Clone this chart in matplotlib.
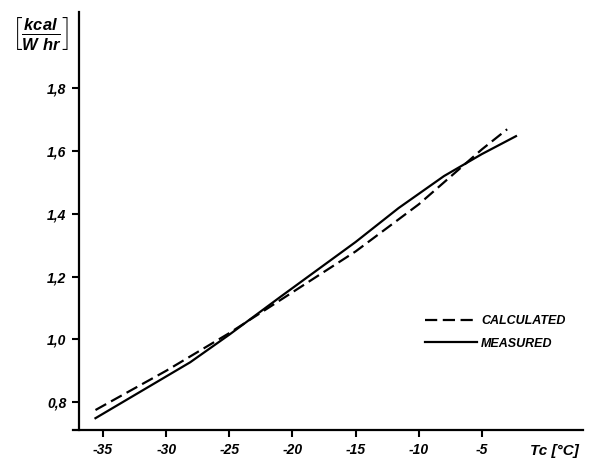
import matplotlib
matplotlib.use("Agg")
import matplotlib.pyplot as plt

# condenser temperature (deg C) vs. heat rate, calculated and measured
tc_calc = [-35.6, -30, -25, -20, -15, -10, -5, -3.0]
q_calc = [0.775, 0.90, 1.02, 1.15, 1.28, 1.43, 1.605, 1.669]

tc_meas = [-35.6, -28.1, -25, -21, -15, -11.6, -8, -5, -2.3]
q_meas = [0.749, 0.927, 1.015, 1.134, 1.31, 1.418, 1.52, 1.59, 1.647]

xticks = [-35, -30, -25, -20, -15, -10, -5]
yticks = [0.8, 1.0, 1.2, 1.4, 1.6, 1.8]
ytick_labels = ["0,8", "1,0", "1,2", "1,4", "1,6", "1,8"]

plt.rcParams["font.family"] = ["Liberation Sans", "DejaVu Sans"]
plt.rcParams["mathtext.fontset"] = "custom"
plt.rcParams["mathtext.it"] = "Liberation Sans:italic:bold"
plt.rcParams["mathtext.rm"] = "Liberation Sans:bold"

fig = plt.figure(figsize=(5.9, 4.66), dpi=100)
ax = fig.add_axes([0.134, 0.077, 0.854, 0.897])

ax.plot(tc_calc, q_calc, color="black", lw=1.6, dashes=(5.5, 2.5),
        label="CALCULATED")
ax.plot(tc_meas, q_meas, color="black", lw=1.6, label="MEASURED")

ax.set_xlim(-36.9, 3.0)
ax.set_ylim(0.711, 2.042)
ax.spines["top"].set_visible(False)
ax.spines["right"].set_visible(False)
for s in ("left", "bottom"):
    ax.spines[s].set_linewidth(1.6)
ax.spines["bottom"].set_bounds(-37.4, 3.0)

ax.set_xticks(xticks)
ax.set_xticklabels([str(t) for t in xticks])
ax.set_yticks(yticks)
ax.set_yticklabels(ytick_labels)
ax.tick_params(direction="out", length=5, width=1.5, labelsize=10, pad=4)
for lbl in ax.get_xticklabels() + ax.get_yticklabels():
    lbl.set_fontweight("bold")
    lbl.set_fontstyle("italic")

fig.text(0.94, 0.033, "Tc [°C]", fontsize=11, fontweight="bold",
         fontstyle="italic", ha="center", va="center")
fig.text(0.068, 0.928, r"$\left[\frac{kcal}{W\ hr}\right]$", fontsize=17,
         ha="center", va="center")

leg = ax.legend(loc="center left", bbox_to_anchor=(0.664, 0.234),
                frameon=False, handlelength=4.2, handletextpad=0.3,
                labelspacing=0.85,
                prop={"weight": "bold", "style": "italic", "size": 9})

fig.savefig("out.png", dpi=100)
